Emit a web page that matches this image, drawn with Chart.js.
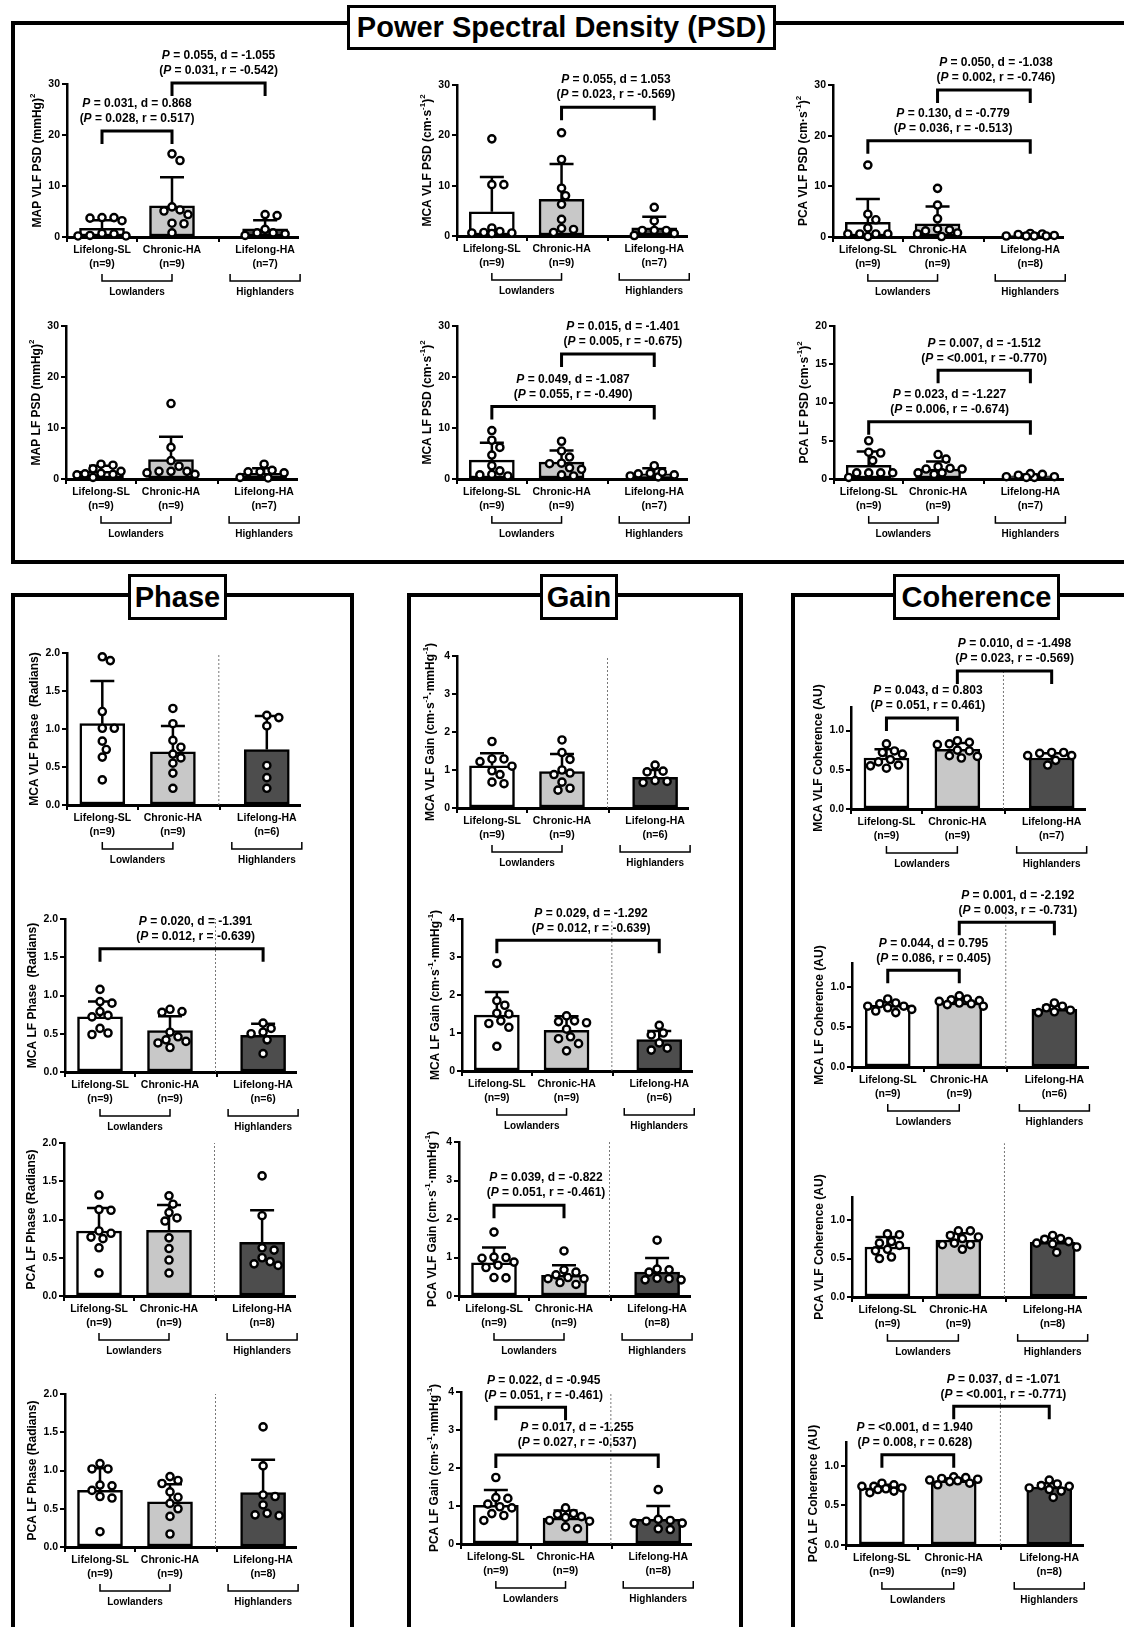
<!DOCTYPE html>
<html>
<head>
<meta charset="utf-8">
<script src="https://cdn.jsdelivr.net/npm/chart.js@4.4.1/dist/chart.umd.min.js"></script>
<style>
  body { margin: 0; width: 1124px; height: 1627px; overflow: hidden; background: #fff; position: relative;
         font-family: "Liberation Sans", Arial, sans-serif; }
  .frame { position: absolute; box-sizing: border-box; border: 4px solid #000; }
  .head { position: absolute; box-sizing: border-box; border: 3px solid #000; background: #fff; color: #000;
          font-weight: bold; font-size: 29px; display: flex; align-items: center; justify-content: center; }
  canvas { position: absolute; }
</style>
</head>
<body>
<div class="frame" style="left:11px;top:21px;width:1140px;height:543px"></div>
<div class="head" style="left:347px;top:5px;width:429px;height:45px">Power Spectral Density (PSD)</div>
<div class="frame" style="left:11px;top:593px;width:343px;height:1100px"></div>
<div class="frame" style="left:407px;top:593px;width:336px;height:1100px"></div>
<div class="frame" style="left:791px;top:593px;width:400px;height:1100px"></div>
<div class="head" style="left:128px;top:574px;width:99px;height:46px">Phase</div>
<div class="head" style="left:540px;top:574px;width:78px;height:46px">Gain</div>
<div class="head" style="left:893px;top:574px;width:167px;height:46px">Coherence</div>

<script>
// Groupes et axes communs
const groupNames = ['Lifelong-SL', 'Chronic-HA', 'Lifelong-HA'];
const groupPos = [1, 2, 3.33];
const regionNames = ['Lowlanders', 'Highlanders'];

const psdTicks = [0, 10, 20, 30];
const pcaLfPsdTicks = [0, 5, 10, 15, 20];
const phaseTicks = [0, 0.5, 1, 1.5, 2];
const gainTicks = [0, 1, 2, 3, 4];
const cohTicks = [0, 0.5, 1];

// PSD
const mapVlfMean = [1.7, 6.1, 1.6];
const mapVlfSd = [1.6, 5.6, 1.7];
const mapVlfN = [9, 9, 7];
const mapVlfPts = [[3.8, 3.7, 3.2, 3.8, 0.7, 0.6, 0.3, 0.2, 0.2],
                   [16.3, 15.0, 5.9, 5.3, 5.1, 4.4, 2.6, 2.7, 0.8],
                   [4.2, 4.4, 1.5, 0.6, 0.8, 0.3, 0.8]];
const mapVlfSig = [[0, 1, 20.8, 'P = 0.031, d = 0.868', '(P = 0.028, r = 0.517)'],
                   [1, 2, 30.2, 'P = 0.055, d = -1.055', '(P = 0.031, r = -0.542)']];

const mcaVlfMean = [4.8, 7.3, 1.6];
const mcaVlfSd = [6.9, 7.0, 2.2];
const mcaVlfN = [9, 9, 7];
const mcaVlfPts = [[19.3, 10.2, 10.2, 1.6, 0.6, 0.6, 0.9, 0.5, 0.7],
                   [20.5, 15.2, 9.5, 8.0, 6.3, 3.3, 0.7, 1.5, 1.3],
                   [5.7, 3.0, 0.5, 1.1, 1.1, 1.1, 0.1]];
const mcaVlfSig = [[1, 2, 25.6, 'P = 0.055, d = 1.053', '(P = 0.023, r = -0.569)']];

const pcaVlfMean = [2.9, 2.6, 0.4];
const pcaVlfSd = [4.6, 3.4, 0.3];
const pcaVlfN = [9, 9, 8];
const pcaVlfPts = [[14.2, 4.5, 3.4, 0.6, 0.6, 0.6, 0.6, 1.8, 0.1],
                   [9.6, 6.3, 3.6, 0.8, 1.4, 0.6, 1.2, 1.6, 0.1],
                   [0.2, 0.6, 0.3, 0.7, 0.2, 0.5, 0.2, 0.2]];
const pcaVlfSig = [[0, 2, 19.0, 'P = 0.130, d = -0.779', '(P = 0.036, r = -0.513)'],
                   [1, 2, 29.0, 'P = 0.050, d = -1.038', '(P = 0.002, r = -0.746)']];

const mapLfMean = [1.5, 3.8, 1.1];
const mapLfSd = [1.1, 4.5, 1.0];
const mapLfN = [9, 9, 7];
const mapLfPts = [[2.0, 2.9, 2.7, 1.0, 0.8, 1.1, 1.5, 0.3, 0.9],
                  [14.8, 6.2, 3.6, 1.2, 1.5, 1.5, 1.5, 2.5, 0.9],
                  [0.3, 1.4, 2.9, 1.2, 1.4, 1.7, 0.2]];

const mcaLfMean = [3.7, 3.3, 1.0];
const mcaLfSd = [3.4, 2.3, 1.1];
const mcaLfN = [9, 9, 7];
const mcaLfPts = [[9.5, 7.6, 6.2, 4.7, 2.6, 1.6, 0.8, 0.6, 0.9],
                  [7.4, 5.5, 4.3, 3.1, 3.0, 2.2, 1.9, 0.8, 0.6],
                  [0.4, 1.1, 2.6, 1.3, 0.6, 1.0, 0.8]];
const mcaLfSig = [[0, 2, 14.2, 'P = 0.049, d = -1.087', '(P = 0.055, r = -0.490)'],
                  [1, 2, 24.5, 'P = 0.015, d = -1.401', '(P = 0.005, r = -0.675)']];

const pcaLfMean = [1.8, 1.3, 0.4];
const pcaLfSd = [1.8, 1.0, 0.2];
const pcaLfN = [9, 9, 7];
const pcaLfPts = [[5.0, 3.5, 3.4, 2.4, 0.8, 0.8, 0.8, 0.8, 0.2],
                  [3.2, 2.6, 0.8, 1.3, 1.4, 1.6, 1.3, 0.8, 0.6],
                  [0.2, 0.5, 0.6, 0.3, 0.7, 0.3, 0.2]];
const pcaLfSig = [[0, 2, 7.5, 'P = 0.023, d = -1.227', '(P = 0.006, r = -0.674)'],
                  [1, 2, 14.2, 'P = 0.007, d = -1.512', '(P = <0.001, r = -0.770)']];

// Phase
const phVlfMean = [1.07, 0.70, 0.73];
const phVlfSd = [0.56, 0.34, 0.44];
const phVlfN = [9, 9, 6];
const phVlfPts = [[1.95, 1.90, 1.23, 1.01, 1.01, 0.84, 0.73, 0.63, 0.33],
                  [1.27, 1.07, 0.85, 0.76, 0.67, 0.62, 0.55, 0.42, 0.22],
                  [1.15, 1.18, 1.04, 0.52, 0.36, 0.22]];

const phLfMean = [0.72, 0.54, 0.48];
const phLfSd = [0.20, 0.19, 0.15];
const phLfN = [9, 9, 6];
const phLfPts = [[1.08, 0.90, 0.92, 0.79, 0.74, 0.72, 0.57, 0.49, 0.51],
                 [0.82, 0.78, 0.79, 0.42, 0.52, 0.46, 0.32, 0.40, 0.38],
                 [0.64, 0.57, 0.50, 0.42, 0.52, 0.24]];
const phLfSig = [[0, 2, 1.61, 'P = 0.020, d = -1.391', '(P = 0.012, r = -0.639)']];

const phPcaAMean = [0.85, 0.86, 0.70];
const phPcaASd = [0.30, 0.33, 0.42];
const phPcaAN = [9, 9, 8];
const phPcaAPts = [[1.32, 1.13, 1.12, 0.85, 0.82, 0.77, 0.75, 0.63, 0.30],
                   [1.31, 1.20, 1.09, 1.02, 0.98, 0.76, 0.62, 0.47, 0.30],
                   [1.57, 1.05, 0.63, 0.60, 0.50, 0.40, 0.45, 0.42]];

const phPcaBMean = [0.74, 0.59, 0.71];
const phPcaBSd = [0.29, 0.23, 0.43];
const phPcaBN = [9, 9, 8];
const phPcaBPts = [[1.09, 1.02, 1.02, 0.81, 0.80, 0.74, 0.64, 0.66, 0.20],
                   [0.92, 0.87, 0.83, 0.72, 0.65, 0.57, 0.50, 0.40, 0.17],
                   [1.57, 1.06, 0.66, 0.68, 0.55, 0.41, 0.44, 0.42]];

// Gain
const gnVlfMean = [1.11, 0.96, 0.81];
const gnVlfSd = [0.33, 0.46, 0.19];
const gnVlfN = [9, 9, 6];
const gnVlfPts = [[1.75, 1.29, 1.29, 1.22, 1.10, 0.98, 0.88, 0.64, 0.68],
                  [1.79, 1.46, 1.28, 1.00, 0.88, 0.68, 0.92, 0.47, 0.52],
                  [1.13, 0.97, 0.95, 0.67, 0.72, 0.70]];

const gnLfMean = [1.47, 1.07, 0.83];
const gnLfSd = [0.61, 0.37, 0.22];
const gnLfN = [9, 9, 6];
const gnLfPts = [[2.83, 1.85, 1.73, 1.50, 1.52, 1.32, 1.25, 1.15, 0.65],
                 [1.45, 1.30, 1.32, 1.27, 1.10, 0.90, 0.85, 0.72, 0.53],
                 [1.20, 1.00, 0.95, 0.74, 0.55, 0.60]];
const gnLfSig = [[0, 2, 3.44, 'P = 0.029, d = -1.292', '(P = 0.012, r = -0.639)']];

const gnPcaVlfMean = [0.86, 0.54, 0.62];
const gnPcaVlfSd = [0.40, 0.26, 0.37];
const gnPcaVlfN = [9, 9, 8];
const gnPcaVlfPts = [[1.66, 1.01, 0.98, 1.00, 0.88, 0.80, 0.74, 0.48, 0.47],
                     [1.17, 0.68, 0.55, 0.62, 0.48, 0.45, 0.45, 0.35, 0.30],
                     [1.45, 0.68, 0.70, 0.62, 0.45, 0.42, 0.46, 0.42]];
const gnPcaVlfSig = [[0, 1, 2.36, 'P = 0.039, d = -0.822', '(P = 0.051, r = -0.461)']];

const gnPcaLfMean = [1.02, 0.68, 0.65];
const gnPcaLfSd = [0.40, 0.20, 0.35];
const gnPcaLfN = [9, 9, 8];
const gnPcaLfPts = [[1.75, 1.22, 1.20, 1.05, 0.98, 0.95, 0.80, 0.62, 0.75],
                    [0.95, 0.80, 0.78, 0.70, 0.72, 0.62, 0.60, 0.40, 0.45],
                    [1.43, 0.62, 0.60, 0.65, 0.55, 0.40, 0.38, 0.55]];
const gnPcaLfSig = [[0, 1, 3.60, 'P = 0.022, d = -0.945', '(P = 0.051, r = -0.461)'],
                    [0, 2, 2.34, 'P = 0.017, d = -1.255', '(P = 0.027, r = -0.537)']];

// Cohérence
const chVlfMean = [0.65, 0.76, 0.65];
const chVlfSd = [0.11, 0.08, 0.06];
const chVlfN = [9, 9, 7];
const chVlfPts = [[0.83, 0.72, 0.74, 0.70, 0.63, 0.52, 0.56, 0.60, 0.55],
                  [0.87, 0.85, 0.83, 0.82, 0.75, 0.74, 0.67, 0.65, 0.68],
                  [0.72, 0.68, 0.72, 0.71, 0.68, 0.56, 0.62]];
const chVlfSig = [[0, 1, 1.16, 'P = 0.043, d = 0.803', '(P = 0.051, r = 0.461)'],
                  [1, 2, 1.76, 'P = 0.010, d = -1.498', '(P = 0.023, r = -0.569)']];

const chLfMean = [0.77, 0.80, 0.72];
const chLfSd = [0.04, 0.06, 0.05];
const chLfN = [9, 9, 6];
const chLfPts = [[0.85, 0.80, 0.79, 0.76, 0.74, 0.72, 0.70, 0.68, 0.76],
                 [0.89, 0.85, 0.84, 0.83, 0.82, 0.80, 0.79, 0.78, 0.76],
                 [0.80, 0.76, 0.74, 0.71, 0.69, 0.68]];
const chLfSig = [[0, 1, 1.21, 'P = 0.044, d = 0.795', '(P = 0.086, r = 0.405)'],
                 [1, 2, 1.81, 'P = 0.001, d = -2.192', '(P = 0.003, r = -0.731)']];

const chPcaVlfMean = [0.65, 0.74, 0.71];
const chPcaVlfSd = [0.13, 0.09, 0.07];
const chPcaVlfN = [9, 9, 8];
const chPcaVlfPts = [[0.82, 0.81, 0.72, 0.67, 0.70, 0.60, 0.62, 0.50, 0.52],
                     [0.86, 0.86, 0.78, 0.80, 0.76, 0.68, 0.68, 0.70, 0.62],
                     [0.80, 0.76, 0.75, 0.72, 0.70, 0.69, 0.65, 0.58]];

const chPcaLfMean = [0.72, 0.81, 0.73];
const chPcaLfSd = [0.04, 0.03, 0.05];
const chPcaLfN = [9, 9, 8];
const chPcaLfPts = [[0.78, 0.76, 0.74, 0.74, 0.72, 0.71, 0.70, 0.68, 0.66],
                    [0.86, 0.85, 0.84, 0.83, 0.82, 0.81, 0.80, 0.78, 0.76],
                    [0.82, 0.77, 0.75, 0.74, 0.72, 0.70, 0.68, 0.60]];
const chPcaLfSig = [[0, 1, 1.14, 'P = <0.001, d = 1.940', '(P = 0.008, r = 0.628)'],
                    [1, 2, 1.75, 'P = 0.037, d = -1.071', '(P = <0.001, r = -0.771)']];

const FONT = '"Liberation Sans", Arial, sans-serif';
const barFill = ['#ffffff', '#c8c8c8', '#4d4d4d'];
const xMin = 0.5, xMax = 3.8, sepPos = 2.65;

// Disposition des panneaux : box = [axe y, fin axe x, haut axe y, zéro]
const panels = [
  { title: 'MAP VLF PSD (mmHg)^{2}', ticks: psdTicks, max: 30, dec: 0, mean: mapVlfMean, sd: mapVlfSd, n: mapVlfN, pts: mapVlfPts, sig: mapVlfSig, box: [67, 298, 84, 237], gap: 30, shift: [0, 0] },
  { title: 'MCA VLF PSD (cm·s^{-1})^{2}', ticks: psdTicks, max: 30, dec: 0, mean: mcaVlfMean, sd: mcaVlfSd, n: mcaVlfN, pts: mcaVlfPts, sig: mcaVlfSig, box: [457, 687, 85, 236], gap: 30, shift: [8] },
  { title: 'PCA VLF PSD (cm·s^{-1})^{2}', ticks: psdTicks, max: 30, dec: 0, mean: pcaVlfMean, sd: pcaVlfSd, n: pcaVlfN, pts: pcaVlfPts, sig: pcaVlfSig, box: [833, 1063, 85, 237], gap: 30, shift: [4, 12] },
  { title: 'MAP LF PSD (mmHg)^{2}', ticks: psdTicks, max: 30, dec: 0, mean: mapLfMean, sd: mapLfSd, n: mapLfN, pts: mapLfPts, sig: [], box: [66, 297, 326, 479], gap: 30 },
  { title: 'MCA LF PSD (cm·s^{-1})^{2}', ticks: psdTicks, max: 30, dec: 0, mean: mcaLfMean, sd: mcaLfSd, n: mcaLfN, pts: mcaLfPts, sig: mcaLfSig, box: [457, 687, 326, 479], gap: 30, shift: [0, 15] },
  { title: 'PCA LF PSD (cm·s^{-1})^{2}', ticks: pcaLfPsdTicks, max: 20, dec: 0, mean: pcaLfMean, sd: pcaLfSd, n: pcaLfN, pts: pcaLfPts, sig: pcaLfSig, box: [834, 1063, 326, 479], gap: 30, shift: [0, 0] },

  { title: 'MCA VLF Phase  (Radians)', ticks: phaseTicks, max: 2, dec: 1, mean: phVlfMean, sd: phVlfSd, n: phVlfN, pts: phVlfPts, sig: [], box: [67, 300, 653, 805], gap: 33, sepTop: 2 },
  { title: 'MCA LF Phase  (Radians)', ticks: phaseTicks, max: 2, dec: 1, mean: phLfMean, sd: phLfSd, n: phLfN, pts: phLfPts, sig: phLfSig, box: [65, 296, 919, 1072], gap: 33, sepTop: 2, shift: [14] },
  { title: 'PCA LF Phase (Radians)', ticks: phaseTicks, max: 2, dec: 1, mean: phPcaAMean, sd: phPcaASd, n: phPcaAN, pts: phPcaAPts, sig: [], box: [64, 295, 1143, 1296], gap: 33, sepTop: 2 },
  { title: 'PCA LF Phase (Radians)', ticks: phaseTicks, max: 2, dec: 1, mean: phPcaBMean, sd: phPcaBSd, n: phPcaBN, pts: phPcaBPts, sig: [], box: [65, 296, 1394, 1547], gap: 33, sepTop: 2 },

  { title: 'MCA VLF Gain (cm·s^{-1}·mmHg^{-1})', ticks: gainTicks, max: 4, dec: 0, mean: gnVlfMean, sd: gnVlfSd, n: gnVlfN, pts: gnVlfPts, sig: [], box: [457, 688, 656, 808], gap: 27, sepTop: 4 },
  { title: 'MCA LF Gain (cm·s^{-1}·mmHg^{-1})', ticks: gainTicks, max: 4, dec: 0, mean: gnLfMean, sd: gnLfSd, n: gnLfN, pts: gnLfPts, sig: gnLfSig, box: [462, 692, 919, 1071], gap: 27, sepTop: 4, shift: [13] },
  { title: 'PCA VLF Gain (cm·s^{-1}·mmHg^{-1})', ticks: gainTicks, max: 4, dec: 0, mean: gnPcaVlfMean, sd: gnPcaVlfSd, n: gnPcaVlfN, pts: gnPcaVlfPts, sig: gnPcaVlfSig, box: [459, 690, 1142, 1296], gap: 27, sepTop: 4, shift: [17] },
  { title: 'PCA LF Gain (cm·s^{-1}·mmHg^{-1})', ticks: gainTicks, max: 4, dec: 0, mean: gnPcaLfMean, sd: gnPcaLfSd, n: gnPcaLfN, pts: gnPcaLfPts, sig: gnPcaLfSig, box: [461, 691, 1392, 1544], gap: 27, sepTop: 4, shift: [13, 0] },

  { title: 'MCA VLF Coherence (AU)', ticks: cohTicks, max: 1.3, dec: 1, mean: chVlfMean, sd: chVlfSd, n: chVlfN, pts: chVlfPts, sig: chVlfSig, box: [851, 1085, 707, 809], gap: 33, sepTop: 1.78, shift: [6, 10] },
  { title: 'MCA LF Coherence (AU)', ticks: cohTicks, max: 1.3, dec: 1, mean: chLfMean, sd: chLfSd, n: chLfN, pts: chLfPts, sig: chLfSig, box: [852, 1088, 963, 1067], gap: 33, sepTop: 2, shift: [10, 11] },
  { title: 'PCA VLF Coherence (AU)', ticks: cohTicks, max: 1.3, dec: 1, mean: chPcaVlfMean, sd: chPcaVlfSd, n: chPcaVlfN, pts: chPcaVlfPts, sig: [], box: [852, 1086, 1197, 1297], gap: 33, sepTop: 2 },
  { title: 'PCA LF Coherence (AU)', ticks: cohTicks, max: 1.3, dec: 1, mean: chPcaLfMean, sd: chPcaLfSd, n: chPcaLfN, pts: chPcaLfPts, sig: chPcaLfSig, box: [846, 1083, 1442, 1545], gap: 33, sepTop: 1.92, shift: [-3, 2] }
];

const panelById = {};

// Répartir les points côte à côte, sans dépasser la largeur de la barre
function swarmX(values, centre, pxX, pxY) {
  const d = 8.5, step = 4, maxOff = 26, placed = [], xs = [];
  values.map((v, i) => i).sort((a, b) => values[b] - values[a]).forEach(i => {
    const yy = values[i] * pxY;
    let best = 0, bestGap = -1;
    for (let k = 0; Math.ceil(k / 2) * step <= maxOff; k++) {
      const off = (k % 2 ? 1 : -1) * Math.ceil(k / 2) * step;
      const gap = placed.reduce((m, q) => Math.min(m, Math.hypot(q[0] - off, q[1] - yy)), Infinity);
      if (gap >= d) { best = off; bestGap = gap; break; }
      if (gap > bestGap) { best = off; bestGap = gap; }
    }
    placed.push([best, yy]);
    xs[i] = centre + best / pxX;
  });
  return xs;
}

// Texte d'annotation avec le P en italique
function noteLine(ctx, text, cx, cy) {
  const parts = text.split(/(P)/).filter(s => s);
  const fontFor = s => (s === 'P' ? 'italic bold 12px ' : 'bold 12px ') + FONT;
  let w = 0;
  parts.forEach(s => { ctx.font = fontFor(s); w += ctx.measureText(s).width; });
  let xx = cx - w / 2;
  ctx.textAlign = 'left';
  ctx.textBaseline = 'middle';
  parts.forEach(s => { ctx.font = fontFor(s); ctx.fillText(s, xx, cy); xx += ctx.measureText(s).width; });
}

// Titre vertical avec exposants ^{...}
function drawYTitle(ctx, title, cx, cy) {
  const segs = title.split(/\^\{([^}]*)\}/);
  const fontFor = i => (i % 2 ? 'bold 8px ' : 'bold 12px ') + FONT;
  let w = 0;
  segs.forEach((s, i) => { ctx.font = fontFor(i); w += ctx.measureText(s).width; });
  ctx.save();
  ctx.translate(cx, cy);
  ctx.rotate(-Math.PI / 2);
  ctx.textAlign = 'left';
  ctx.textBaseline = 'alphabetic';
  let xx = -w / 2;
  segs.forEach((s, i) => {
    ctx.font = fontFor(i);
    ctx.fillText(s, xx, i % 2 ? -2 : 4);
    xx += ctx.measureText(s).width;
  });
  ctx.restore();
}

const panelExtras = {
  id: 'panelExtras',
  beforeDatasetsDraw(chart) {
    const p = panelById[chart.canvas.id];
    if (!p.sepTop) return;
    const { x, y } = chart.scales;
    const ctx = chart.ctx;
    const sx = x.getPixelForValue(sepPos);
    ctx.save();
    ctx.strokeStyle = '#777';
    ctx.lineWidth = 1;
    ctx.setLineDash([2, 2]);
    ctx.beginPath();
    ctx.moveTo(sx, y.getPixelForValue(0));
    ctx.lineTo(sx, y.getPixelForValue(p.sepTop));
    ctx.stroke();
    ctx.restore();
  },
  afterDatasetDraw(chart, args) {
    if (args.index !== 0) return;
    // Barres d'erreur (moyenne + écart-type)
    const p = panelById[chart.canvas.id];
    const { x, y } = chart.scales;
    const ctx = chart.ctx;
    ctx.save();
    ctx.strokeStyle = '#000';
    ctx.lineWidth = 2.5;
    p.mean.forEach((m, i) => {
      const px = x.getPixelForValue(groupPos[i]);
      const top = y.getPixelForValue(m + p.sd[i]);
      ctx.beginPath();
      ctx.moveTo(px, y.getPixelForValue(m));
      ctx.lineTo(px, top);
      ctx.moveTo(px - 12, top);
      ctx.lineTo(px + 12, top);
      ctx.stroke();
    });
    ctx.restore();
  },
  afterDraw(chart) {
    const p = panelById[chart.canvas.id];
    const { x, y } = chart.scales;
    const ctx = chart.ctx;
    const xs = groupPos.map(v => x.getPixelForValue(v));
    const y0 = y.getPixelForValue(0);
    ctx.save();
    ctx.fillStyle = '#000';
    ctx.strokeStyle = '#000';

    // Accolades Lowlanders / Highlanders
    const yb = y0 + 44;
    ctx.lineWidth = 1.5;
    [[xs[0], xs[1]], [xs[2] - 35, xs[2] + 35]].forEach(([a, b], k) => {
      ctx.beginPath();
      ctx.moveTo(a, yb - 7); ctx.lineTo(a, yb); ctx.lineTo(b, yb); ctx.lineTo(b, yb - 7);
      ctx.stroke();
      ctx.font = 'bold 10px ' + FONT;
      ctx.textAlign = 'center';
      ctx.textBaseline = 'middle';
      ctx.fillText(regionNames[k], (a + b) / 2, yb + 11);
    });

    // Comparaisons significatives
    ctx.lineWidth = 3;
    ctx.lineJoin = 'miter';
    p.sig.forEach(([a, b, v, l1, l2], k) => {
      const yy = y.getPixelForValue(v);
      ctx.beginPath();
      ctx.moveTo(xs[a], yy + 13); ctx.lineTo(xs[a], yy); ctx.lineTo(xs[b], yy); ctx.lineTo(xs[b], yy + 13);
      ctx.stroke();
      const cx = (xs[a] + xs[b]) / 2 + (p.shift ? p.shift[k] : 0);
      noteLine(ctx, l1, cx, yy - 27);
      noteLine(ctx, l2, cx, yy - 12);
    });

    drawYTitle(ctx, p.title, chart.chartArea.left - p.gap, (chart.chartArea.top + chart.chartArea.bottom) / 2);
    ctx.restore();
  }
};

Chart.defaults.font.family = FONT;
Chart.defaults.color = '#000';

panels.forEach((p, k) => {
  const [ax, xr, yTop, y0] = p.box;
  const L = 50, T = 80, R = 30, B = 66;
  const cv = document.createElement('canvas');
  cv.id = 'panel' + k;
  cv.width = L + (xr - ax) + R;
  cv.height = T + (y0 - yTop) + B;
  cv.style.left = (ax - L) + 'px';
  cv.style.top = (yTop - T) + 'px';
  document.body.appendChild(cv);
  panelById[cv.id] = p;

  const pxX = (xr - ax) / (xMax - xMin);
  const pxY = (y0 - yTop) / p.max;
  const dots = [];
  p.pts.forEach((vals, g) => {
    const xsw = swarmX(vals, groupPos[g], pxX, pxY);
    vals.forEach((v, i) => dots.push({ x: xsw[i], y: v }));
  });

  new Chart(cv, {
    type: 'bar',
    data: {
      datasets: [
        {
          type: 'bar',
          data: p.mean.map((m, i) => ({ x: groupPos[i], y: m })),
          backgroundColor: barFill,
          borderColor: '#000',
          borderWidth: 2.5,
          borderSkipped: false,
          barThickness: 45,
          order: 2,
          clip: false
        },
        {
          type: 'scatter',
          data: dots,
          pointRadius: 3.6,
          pointBorderWidth: 2.4,
          pointBackgroundColor: '#fff',
          pointBorderColor: '#000',
          order: 1,
          clip: false
        }
      ]
    },
    options: {
      responsive: false,
      animation: false,
      events: [],
      layout: { padding: { top: T, right: R, left: 0, bottom: 0 } },
      plugins: { legend: { display: false }, tooltip: { enabled: false } },
      scales: {
        x: {
          type: 'linear',
          min: xMin,
          max: xMax,
          offset: false,
          afterFit: s => { s.height = B; },
          afterBuildTicks: s => { s.ticks = groupPos.map(v => ({ value: v })); },
          ticks: {
            callback: (v, i) => [groupNames[i], '(n=' + p.n[i] + ')'],
            font: { size: 10.5, weight: 'bold', lineHeight: 1.25 },
            color: '#000',
            maxRotation: 0,
            autoSkip: false,
            padding: 2
          },
          grid: { drawOnChartArea: false, drawTicks: true, tickLength: 5, color: '#000', lineWidth: 2 },
          border: { color: '#000', width: 3 }
        },
        y: {
          min: 0,
          max: p.max,
          afterFit: s => { s.width = L; },
          afterBuildTicks: s => { s.ticks = p.ticks.map(v => ({ value: v })); },
          ticks: {
            callback: v => v.toFixed(p.dec),
            font: { size: 10.5, weight: 'bold' },
            color: '#000',
            padding: 2
          },
          grid: { drawOnChartArea: false, drawTicks: true, tickLength: 5, color: '#000', lineWidth: 2 },
          border: { color: '#000', width: 2.5 }
        }
      }
    },
    plugins: [panelExtras]
  });
});
</script>
</body>
</html>
